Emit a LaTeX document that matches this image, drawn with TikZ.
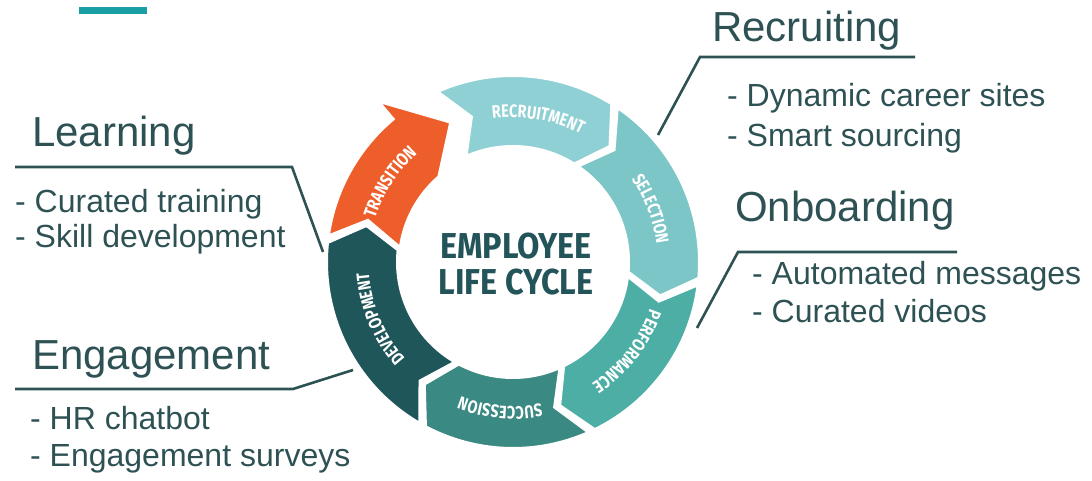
\documentclass[tikz,border=0pt]{standalone}
\usepackage{fontspec}
\setmainfont{Liberation Sans}
\newfontfamily\segfont{Fira Sans}[FakeStretch=0.8]
\newfontfamily\titlefont{Fira Sans}[FakeStretch=0.9]
\usetikzlibrary{decorations.text}
\definecolor{cRec}{HTML}{8FD0D4}
\definecolor{cSel}{HTML}{7CC6C7}
\definecolor{cPer}{HTML}{4DAEA5}
\definecolor{cSuc}{HTML}{3A8982}
\definecolor{cDev}{HTML}{1F565A}
\definecolor{cTra}{HTML}{EE5E2A}
\definecolor{cText}{HTML}{2E5254}
\definecolor{cTitle}{HTML}{22545A}
\definecolor{cBar}{HTML}{1A9EA6}
\newcommand\segtext{\segfont\bfseries\fontsize{18}{18}\selectfont}
\newcommand\lcsegment[3]{%
  \path[fill=#1, seg] (#2:186.5) arc[start angle=#2, end angle=#3, radius=186.5]
    -- ({#3-8}:151) -- (#3:115.5) arc[start angle=#3, end angle=#2, radius=115.5]
    -- ({#2-8}:151) -- cycle;}
\newcommand\lclabel[2]{%
  \path[decorate, decoration={text along path, text={|\segtext|#2}, text align=center, text color=white}]
    ({#1+40}:144.5) arc[start angle={#1+40}, end angle={#1-40}, radius=144.5];}
\begin{document}
\begin{tikzpicture}[x=1pt,y=1pt,
  conn/.style={draw=cText, line width=2.6pt, line join=miter},
  head/.style={anchor=base west, inner sep=0pt, text=cText, font=\fontsize{42}{42}\selectfont},
  item/.style={anchor=base west, inner sep=0pt, text=cText, font=\fontsize{32}{32}\selectfont},
  seg/.style={draw=white, line width=3pt, line join=miter}]
\useasboundingbox (0,0) rectangle (1092,481);
\fill[cBar] (79,467) rectangle (147,474);
% ring
\begin{scope}[shift={(513,219)}]
  \lcsegment{cRec}{114}{58}
  \lcsegment{cSel}{56}{-5}
  \lcsegment{cPer}{-7}{-64}
  \lcsegment{cSuc}{-66}{-118}
  \lcsegment{cDev}{240}{174}
  \path[fill=cTra, seg] (172:186.5) arc[start angle=172, end angle=130, radius=186.5]
    -- (130:210) -- (114:153) -- (131:113) arc[start angle=131, end angle=172, radius=115.5]
    -- (164:151) -- cycle;
  \lclabel{80}{RECRUITMENT}
  \lclabel{21}{SELECTION}
  \lclabel{-38}{PERFORMANCE}
  \lclabel{-95}{SUCCESSION}
  \lclabel{203}{DEVELOPMENT}
  \lclabel{147}{TRANSITION}
\end{scope}
\node[text=cTitle, align=center, inner sep=0pt, font=\titlefont\bfseries\fontsize{36}{36}\selectfont] (title) at (516,217) {EMPLOYEE\\LIFE CYCLE};
% texts
\node[head] (learn) at (32,334) {Learning};
\node[item] (learn1) at (15,268) {- Curated training};
\node[item] (learn2) at (15,233) {- Skill development};
\node[head] (recr) at (712,439) {Recruiting};
\node[item] (recr1) at (727,374) {- Dynamic career sites};
\node[item] (recr2) at (727,334) {- Smart sourcing};
\node[head] (onb) at (735,259) {Onboarding};
\node[item] (onb1) at (752,196) {- Automated messages};
\node[item] (onb2) at (752,158) {- Curated videos};
\node[head] (eng) at (32,111) {Engagement};
\node[item] (eng1) at (30,51) {- HR chatbot};
\node[item] (eng2) at (30,14) {- Engagement surveys};
% connectors
\coordinate (lA) at (15,314); \coordinate (lB) at (292,314); \coordinate (lC) at (323,229);
\coordinate (rA) at (915,424); \coordinate (rB) at (700,424); \coordinate (rC) at (658,346);
\coordinate (oA) at (957,229); \coordinate (oB) at (738,229); \coordinate (oC) at (697,153);
\coordinate (eA) at (15,92); \coordinate (eB) at (293,92); \coordinate (eC) at (353,111);
\draw[conn] (lA) -- (lB) -- (lC);
\draw[conn] (rA) -- (rB) -- (rC);
\draw[conn] (oA) -- (oB) -- (oC);
\draw[conn] (eA) -- (eB) -- (eC);
\end{tikzpicture}
\end{document}
